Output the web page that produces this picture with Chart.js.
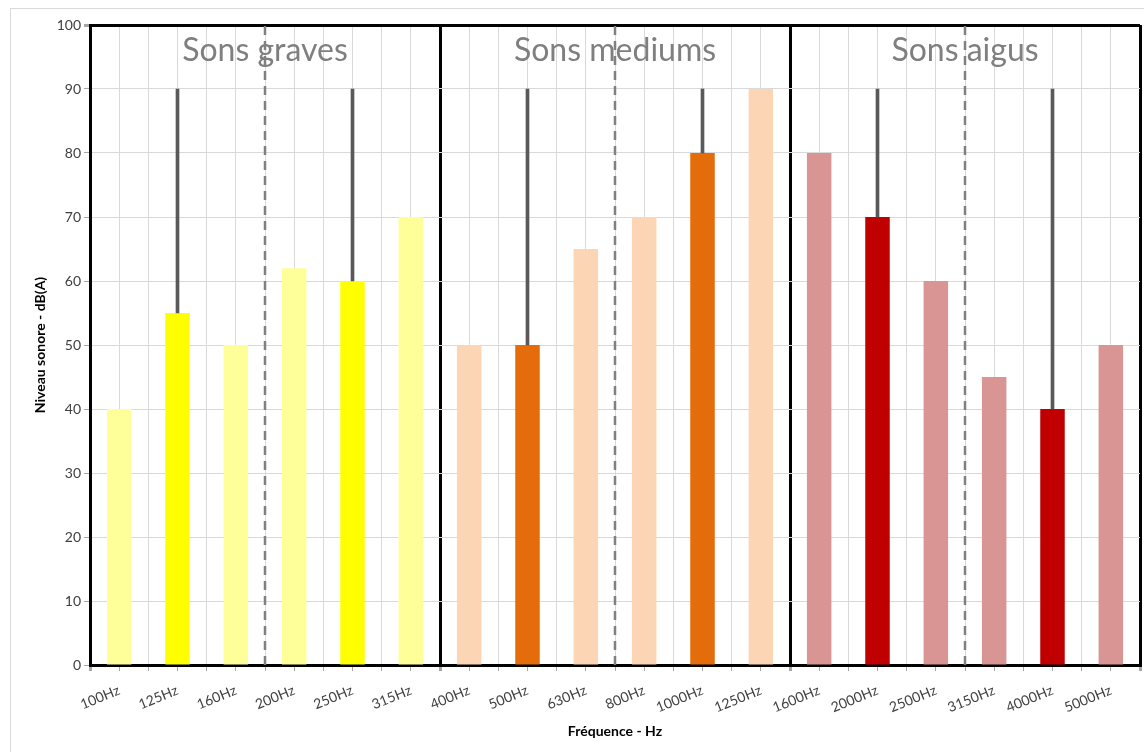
<!DOCTYPE html>
<html>
<head>
<meta charset="utf-8">
<script src="https://cdn.jsdelivr.net/npm/chart.js@4.4.0/dist/chart.umd.min.js"></script>
<style>
  html, body { margin: 0; padding: 0; background: #fff; }
  #frame { position: absolute; left: 10px; top: 8px; width: 1200px; height: 800px; border: 1px solid #d9d9d9; }
  #wrap { position: absolute; left: 0; top: 0; width: 1144px; height: 752px; }
</style>
</head>
<body>
<div id="frame"></div>
<div id="wrap"><canvas id="chart"></canvas></div>
<script>
// Data
const freqLabels = ['100Hz', '125Hz', '160Hz', '200Hz', '250Hz', '315Hz',
                    '400Hz', '500Hz', '630Hz', '800Hz', '1000Hz', '1250Hz',
                    '1600Hz', '2000Hz', '2500Hz', '3150Hz', '4000Hz', '5000Hz'];
const levels = [40, 55, 50, 62, 60, 70,
                50, 50, 65, 70, 80, 90,
                80, 70, 60, 45, 40, 50];
const highlighted = [false, true, false, false, true, false,
                     false, true, false, false, true, false,
                     false, true, false, false, true, false];
const groupNames = ['Sons graves', 'Sons mediums', 'Sons aigus'];
const paleColors = ['#FFFF99', '#FCD5B5', '#D99594'];
const strongColors = ['#FFFF00', '#E46C0A', '#C00000'];
const leaderTop = 90;
const groupSize = 6;

const FONT = 'Lato, "Open Sans", sans-serif';

function groupOf(i) { return Math.floor(i / groupSize); }
function tickVal(c) { return c && c.tick ? c.tick.value : NaN; }
function isGroupEdge(v) { return Math.abs((v + 0.5) % groupSize) < 1e-6; }

// one x position per frequency band (index in freqLabels)
const bars = levels.map((v, i) => ({ x: i, y: v }));
const barColors = levels.map((_, i) => highlighted[i] ? strongColors[groupOf(i)] : paleColors[groupOf(i)]);
const leaders = levels.map((v, i) => ({ x: i, y: [v, leaderTop] })).filter((_, i) => highlighted[i]);

// dashed separators in the middle of each group
const dashedSets = groupNames.map((_, g) => {
  const b = g * groupSize + groupSize / 2 - 0.5;
  return {
    type: 'line',
    data: [{ x: b, y: 0 }, { x: b, y: 100 }],
    borderColor: '#808080',
    borderWidth: 2.5,
    borderDash: [9, 6],
    pointRadius: 0,
    order: 0
  };
});

const groupTitles = {
  id: 'groupTitles',
  afterDatasetsDraw(chart) {
    const xs = chart.scales.x, ys = chart.scales.y, ctx = chart.ctx;
    ctx.save();
    ctx.font = '32px ' + FONT;
    ctx.fillStyle = '#7f7f7f';
    ctx.textAlign = 'center';
    ctx.textBaseline = 'middle';
    groupNames.forEach((name, g) => {
      const x0 = xs.getPixelForValue(g * groupSize - 0.5);
      const x1 = xs.getPixelForValue((g + 1) * groupSize - 0.5);
      ctx.fillText(name, (x0 + x1) / 2, ys.getPixelForValue(96));
    });
    ctx.restore();
  }
};

new Chart(document.getElementById('chart'), {
  type: 'bar',
  data: {
    datasets: [
      {
        data: bars,
        backgroundColor: barColors,
        barPercentage: 0.84,   // ticks every half band
        categoryPercentage: 1,
        grouped: false,
        order: 2
      },
      {
        data: leaders,
        backgroundColor: '#595959',
        barThickness: 3,
        grouped: false,
        order: 1
      },
      ...dashedSets
    ]
  },
  options: {
    responsive: true,
    maintainAspectRatio: false,
    animation: false,
    layout: { padding: { left: 28, top: 25, right: 4, bottom: 8 } },
    plugins: { legend: { display: false }, tooltip: { enabled: false } },
    scales: {
      x: {
        type: 'linear',
        position: 'bottom',
        offset: false,
        min: -0.5,
        max: freqLabels.length - 0.5,
        afterFit(s) { s.height = 79; s.paddingLeft = 0; s.paddingRight = 0; },
        ticks: {
          stepSize: 0.5,
          autoSkip: false,
          minRotation: 22,
          maxRotation: 22,
          padding: 11,
          color: '#404040',
          font: { family: FONT, size: 14 },
          callback: v => Math.abs(v - Math.round(v)) < 1e-6 ? freqLabels[Math.round(v)] : ''
        },
        grid: {
          offset: false,
          color: c => isGroupEdge(tickVal(c)) ? '#000' : '#d9d9d9',
          lineWidth: c => isGroupEdge(tickVal(c)) ? 3 : 1,
          tickColor: '#a6a6a6',
          tickLength: 6
        },
        border: { display: true, color: '#000', width: 3 },
        title: {
          display: true,
          text: 'Fréquence - Hz',
          color: '#000',
          font: { family: FONT, size: 14, weight: 'bold' }
        }
      },
      y: {
        min: 0,
        max: 100,
        afterFit(s) { s.width = 62; },
        ticks: {
          stepSize: 10,
          color: '#404040',
          font: { family: FONT, size: 14 }
        },
        grid: {
          color: c => tickVal(c) === 100 ? '#000' : '#d9d9d9',
          lineWidth: c => tickVal(c) === 100 ? 3 : 1,
          tickColor: '#a6a6a6',
          tickLength: 6
        },
        border: { color: '#000', width: 3 },
        title: {
          display: true,
          text: 'Niveau sonore - dB(A)',
          color: '#000',
          font: { family: FONT, size: 14, weight: 'bold' }
        }
      }
    }
  },
  plugins: [groupTitles]
});
</script>
</body>
</html>
